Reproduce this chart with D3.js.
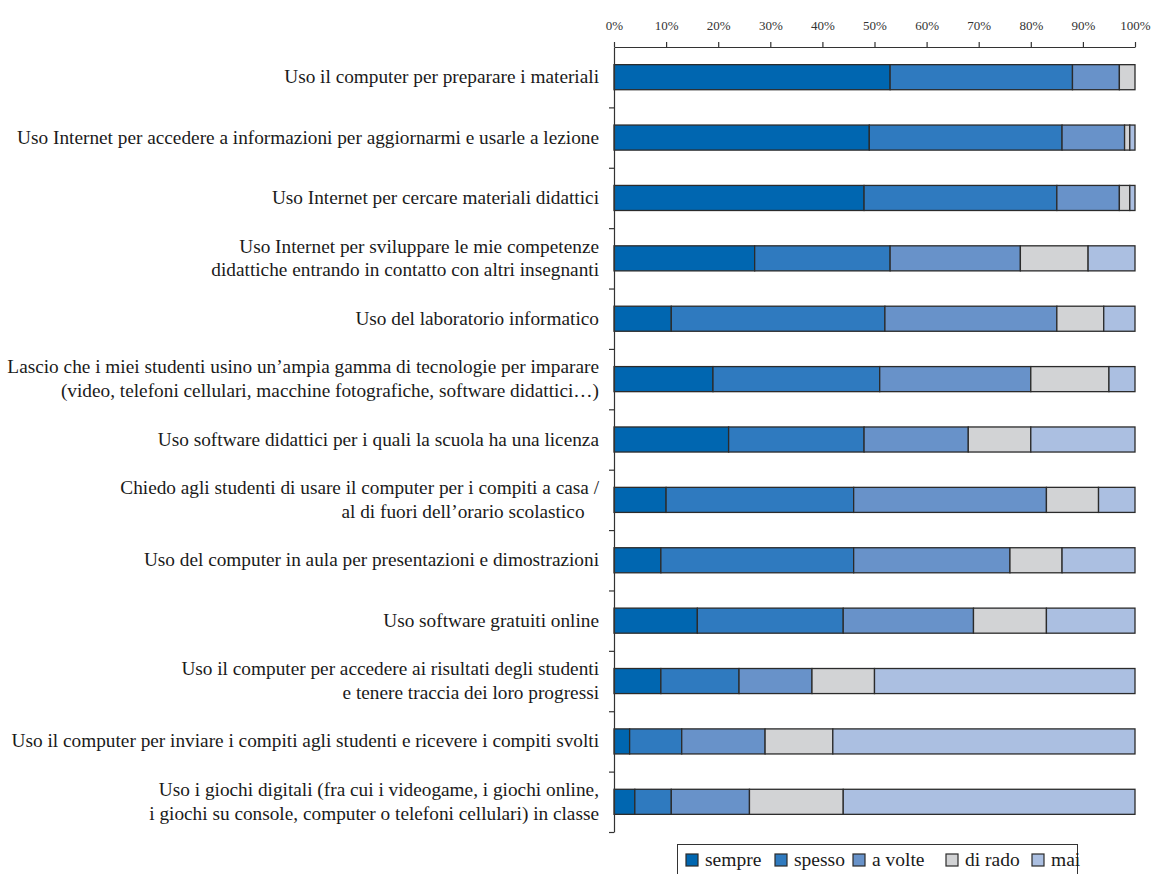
<!DOCTYPE html>
<html>
<head>
<meta charset="utf-8">
<script src="https://cdn.jsdelivr.net/npm/d3@7"></script>
<style>
  body { margin: 0; background: #fff; }
</style>
</head>
<body>
<svg id="chart"></svg>
<script>
// categories (each entry = lines of the label)
const categories = [
  ["Uso il computer per preparare i materiali"],
  ["Uso Internet per accedere a informazioni per aggiornarmi e usarle a lezione"],
  ["Uso Internet per cercare materiali didattici"],
  ["Uso Internet per sviluppare le mie competenze", "didattiche entrando in contatto con altri insegnanti"],
  ["Uso del laboratorio informatico"],
  ["Lascio che i miei studenti usino un\u2019ampia gamma di tecnologie per imparare", "(video, telefoni cellulari, macchine fotografiche, software didattici\u2026)"],
  ["Uso software didattici per i quali la scuola ha una licenza"],
  ["Chiedo agli studenti di usare il computer per i compiti a casa /", "al di fuori dell\u2019orario scolastico\u00a0\u00a0\u00a0"],
  ["Uso del computer in aula per presentazioni e dimostrazioni"],
  ["Uso software gratuiti online"],
  ["Uso il computer per accedere ai risultati degli studenti", "e tenere traccia dei loro progressi"],
  ["Uso il computer per inviare i compiti agli studenti e ricevere i compiti svolti"],
  ["Uso i giochi digitali (fra cui i videogame, i giochi online,", "i giochi su console, computer o telefoni cellulari) in classe"]
];

const seriesNames = ["sempre", "spesso", "a volte", "di rado", "mai"];

// percentages per series, same order as categories
const sempre = [53, 49, 48, 27, 11, 19, 22, 10, 9, 16, 9, 3, 4];
const spesso = [35, 37, 37, 26, 41, 32, 26, 36, 37, 28, 15, 10, 7];
const aVolte = [9, 12, 12, 25, 33, 29, 20, 37, 30, 25, 14, 16, 15];
const diRado = [3, 1, 2, 13, 9, 15, 12, 10, 10, 14, 12, 13, 18];
const mai = [0, 1, 1, 9, 6, 5, 20, 7, 14, 17, 50, 58, 56];

const xTicks = [0, 10, 20, 30, 40, 50, 60, 70, 80, 90, 100];

const colors = ["#0066b0", "#2f7abf", "#6892c9", "#d2d3d5", "#abbfe1"];

const serif = "'Liberation Serif', 'DejaVu Serif', serif";
const width = 1152, height = 874;
const plotLeft = 614, plotRight = 1135, plotTop = 47, plotBottom = 832;

const svg = d3.select("#chart").attr("width", width).attr("height", height);

const rows = categories.map((c, i) => ({
  idx: i,
  "sempre": sempre[i], "spesso": spesso[i], "a volte": aVolte[i], "di rado": diRado[i], "mai": mai[i]
}));

const stacked = d3.stack().keys(seriesNames)(rows);

const x = d3.scaleLinear().domain([0, 100]).range([plotLeft, plotRight]);
const y = d3.scaleBand()
  .domain(d3.range(categories.length))
  .range([plotTop, plotBottom])
  .paddingInner(0.585)
  .paddingOuter(0.2925);
const yEdge = d3.scaleLinear().domain([0, categories.length]).range([plotTop, plotBottom]);

// bars
svg.append("g")
  .selectAll("g")
  .data(stacked)
  .join("g")
  .attr("fill", (d, i) => colors[i])
  .selectAll("rect")
  .data(d => d.filter(p => p[1] - p[0] > 0))
  .join("rect")
  .attr("x", d => x(d[0]))
  .attr("y", d => y(d.data.idx))
  .attr("width", d => x(d[1]) - x(d[0]))
  .attr("height", y.bandwidth())
  .attr("stroke", "#2b2b2b")
  .attr("stroke-width", 1.3);

// top axis
const xAxis = svg.append("g")
  .attr("transform", "translate(0," + plotTop + ")")
  .call(d3.axisTop(x).tickValues(xTicks).tickSize(5).tickSizeOuter(0).tickPadding(12).tickFormat(d => d + "%"));
xAxis.attr("font-family", serif).attr("font-size", 13);
xAxis.select(".domain").attr("stroke", "#333").attr("stroke-width", 1.2);
xAxis.selectAll(".tick line").attr("stroke", "#333").attr("stroke-width", 1.2);
xAxis.selectAll(".tick text").attr("fill", "#333");

// left axis
const yAxis = svg.append("g")
  .attr("transform", "translate(" + plotLeft + ",0)")
  .call(d3.axisLeft(yEdge).tickValues(d3.range(1, categories.length + 1)).tickSize(5).tickSizeOuter(0).tickFormat(""));
yAxis.select(".domain").attr("stroke", "#333").attr("stroke-width", 1.2);
yAxis.selectAll(".tick line").attr("stroke", "#333").attr("stroke-width", 1.2);

// category labels
const lineH = 23.5;
const labels = svg.append("g")
  .attr("font-family", serif)
  .attr("font-size", 19.3)
  .attr("fill", "#1a1a1a")
  .selectAll("text")
  .data(categories)
  .join("text")
  .attr("text-anchor", "end")
  .attr("x", plotLeft - 15)
  .attr("y", (d, i) => y(i) + y.bandwidth() / 2);

labels.selectAll("tspan")
  .data(d => d.map((t, j) => ({ t, j, n: d.length })))
  .join("tspan")
  .attr("x", plotLeft - 15)
  .attr("dy", d => d.j === 0 ? ((-(d.n - 1) / 2) * lineH + 6) + "px" : lineH + "px")
  .text(d => d.t);

// legend
const legend = svg.append("g").attr("font-family", serif).attr("fill", "#1a1a1a");
legend.append("rect")
  .attr("x", 677.5).attr("y", 844.5)
  .attr("width", 400).attr("height", 40)
  .attr("fill", "#fff").attr("stroke", "#333").attr("stroke-width", 1);

const legendX = [686, 775, 853, 946, 1032];
seriesNames.forEach((name, i) => {
  legend.append("rect")
    .attr("x", legendX[i]).attr("y", 854)
    .attr("width", 12).attr("height", 12)
    .attr("fill", colors[i])
    .attr("stroke", "#2b2b2b").attr("stroke-width", 1.2);
  legend.append("text")
    .attr("x", legendX[i] + 19).attr("y", 866)
    .attr("font-size", 19.5)
    .text(name);
});
</script>
</body>
</html>
